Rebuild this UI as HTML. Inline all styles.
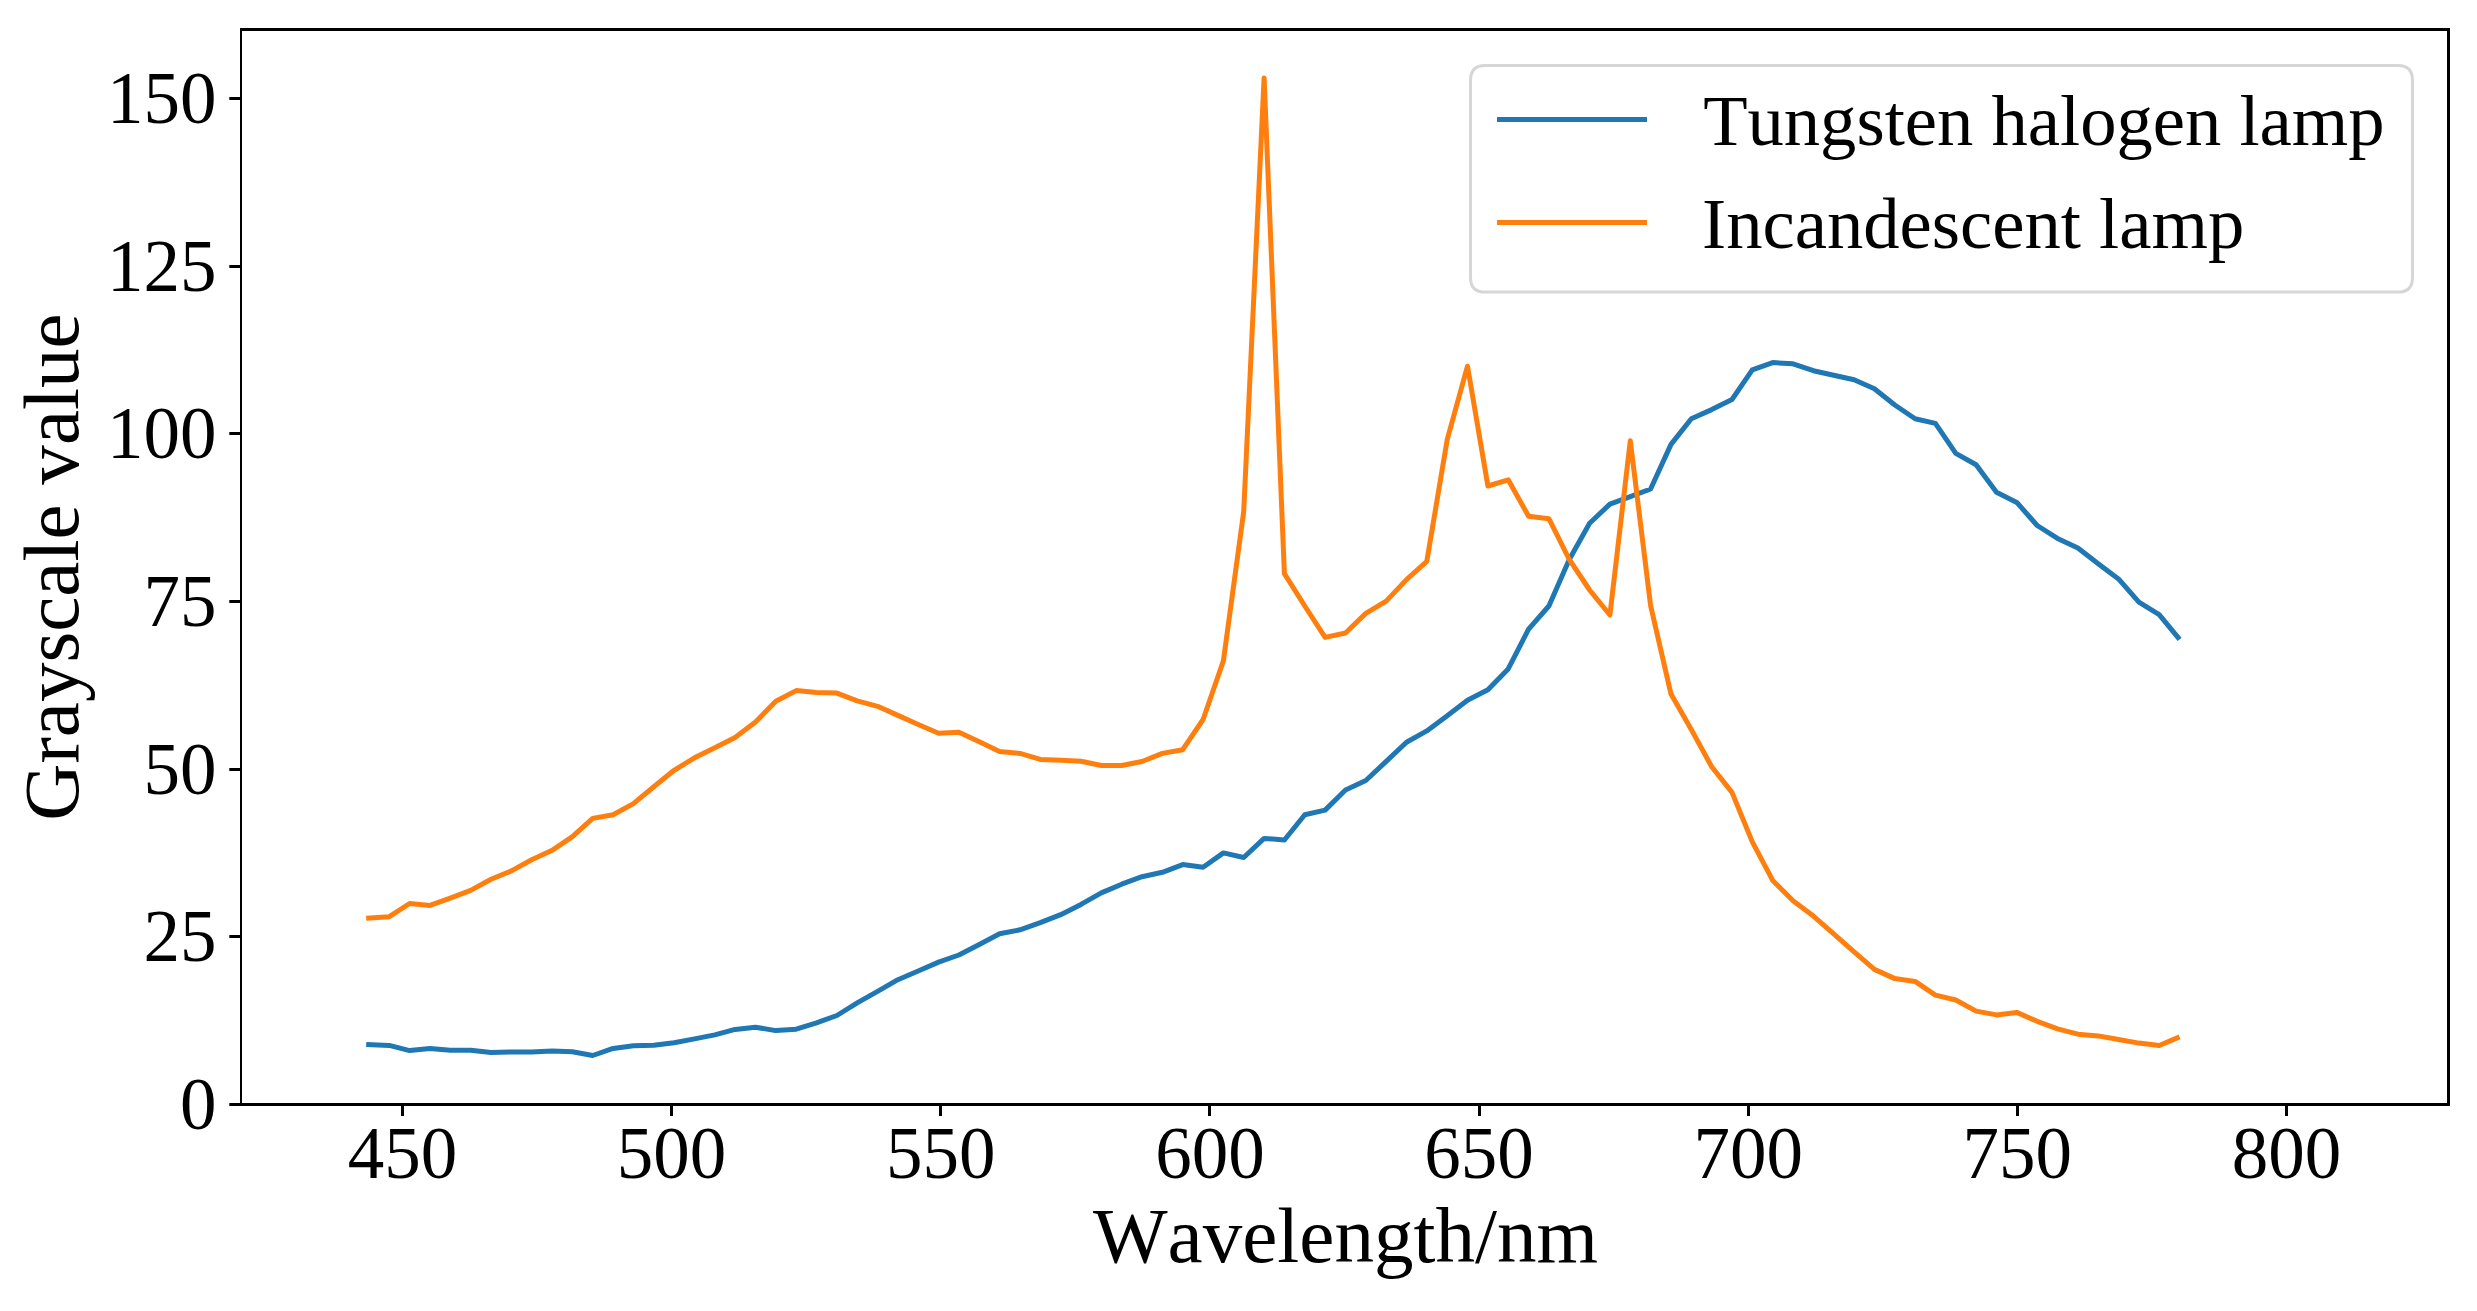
<!DOCTYPE html>
<html><head><meta charset="utf-8"><title>Spectrum</title>
<style>
html,body{margin:0;padding:0;background:#fff;}
svg{display:block;}
text{font-family:"Liberation Serif","Times New Roman",serif;fill:#000;font-kerning:none;}
.t{font-size:73px;}
.l{font-size:79.1px;}
.g{font-size:72.6px;}
</style></head><body>
<svg width="2477" height="1311" viewBox="0 0 2477 1311">
<rect x="0" y="0" width="2477" height="1311" fill="#ffffff"/>
<polyline points="366.2,1044.4 389.3,1045.4 409.6,1050.6 430.0,1048.6 450.3,1050.2 470.7,1050.2 491.0,1052.6 511.4,1052.0 531.7,1052.0 552.1,1051.0 572.4,1051.8 592.7,1055.5 613.1,1048.4 633.4,1045.8 653.8,1045.2 674.1,1042.7 694.5,1038.9 714.8,1034.9 735.1,1029.4 755.5,1027.2 775.8,1030.6 796.2,1029.2 816.5,1022.8 836.9,1015.5 857.2,1002.9 877.6,991.4 897.9,979.7 918.2,971.0 938.6,962.1 958.9,955.0 979.3,944.5 999.6,933.8 1020.0,929.8 1040.3,922.7 1060.7,914.7 1081.0,904.4 1101.3,892.9 1121.7,884.2 1142.0,876.7 1162.4,872.3 1182.7,864.6 1203.1,867.2 1223.4,852.9 1243.7,857.5 1264.1,838.4 1284.4,840.0 1304.8,814.7 1325.1,810.1 1345.5,790.0 1365.8,780.5 1386.2,761.4 1406.5,742.2 1426.8,730.9 1447.2,715.7 1467.5,700.2 1487.9,689.7 1508.2,668.9 1528.6,629.1 1548.9,606.0 1569.3,559.5 1589.6,523.3 1609.9,504.1 1630.3,496.6 1650.6,489.0 1671.0,444.4 1691.3,418.7 1711.7,409.6 1732.0,399.5 1752.3,369.9 1772.7,362.6 1793.0,363.8 1813.4,370.7 1833.7,375.3 1854.1,379.8 1874.4,388.8 1894.8,405.0 1915.1,418.7 1935.4,423.4 1955.8,453.4 1976.1,464.7 1996.5,492.2 2016.8,502.4 2037.2,525.5 2057.5,538.4 2077.9,548.0 2098.2,563.8 2118.5,578.9 2138.9,602.2 2159.2,614.6 2179.6,639.3" fill="none" stroke="#1f77b4" stroke-width="5" stroke-linejoin="round" stroke-linecap="butt"/>
<polyline points="366.2,918.3 389.3,916.7 409.6,903.5 430.0,905.4 450.3,898.1 470.7,890.4 491.0,879.3 511.4,870.9 531.7,859.7 552.1,850.3 572.4,836.7 592.7,818.4 613.1,814.7 633.4,803.6 653.8,786.7 674.1,770.3 694.5,757.8 714.8,747.7 735.1,737.6 755.5,722.1 775.8,701.3 796.2,690.6 816.5,692.6 836.9,693.1 857.2,700.9 877.6,706.3 897.9,715.4 918.2,724.5 938.6,733.2 958.9,732.2 979.3,741.7 999.6,751.4 1020.0,753.4 1040.3,759.4 1060.7,760.2 1081.0,761.3 1101.3,765.5 1121.7,765.5 1142.0,761.5 1162.4,753.4 1182.7,749.7 1203.1,719.5 1223.4,660.9 1243.7,511.6 1264.1,77.9 1284.4,573.6 1304.8,606.0 1325.1,637.4 1345.5,633.0 1365.8,613.4 1386.2,601.1 1406.5,579.6 1426.8,561.4 1447.2,439.7 1467.5,366.2 1487.9,486.0 1508.2,479.8 1528.6,516.2 1548.9,518.7 1569.3,559.5 1589.6,590.0 1609.9,615.0 1630.3,440.8 1650.6,605.5 1671.0,694.1 1691.3,729.5 1711.7,766.8 1732.0,792.4 1752.3,841.9 1772.7,880.4 1793.0,900.7 1813.4,916.1 1833.7,933.8 1854.1,951.9 1874.4,969.4 1894.8,978.6 1915.1,981.4 1935.4,995.1 1955.8,1000.0 1976.1,1011.1 1996.5,1014.9 2016.8,1012.4 2037.2,1021.3 2057.5,1028.8 2077.9,1034.2 2098.2,1035.9 2118.5,1039.5 2138.9,1043.1 2159.2,1045.5 2179.6,1036.9" fill="none" stroke="#ff7f0e" stroke-width="5" stroke-linejoin="round" stroke-linecap="butt"/>
<rect x="240" y="28" width="2" height="1078" fill="#000"/>
<rect x="2447" y="28" width="3" height="1078" fill="#000"/>
<rect x="240" y="28" width="2210" height="3" fill="#000"/>
<rect x="240" y="1103" width="2210" height="3" fill="#000"/>
<rect x="401" y="1104" width="3" height="12" fill="#000"/>
<text class="t" x="402.5" y="1177.8" text-anchor="middle">450</text>
<rect x="670" y="1104" width="3" height="12" fill="#000"/>
<text class="t" x="671.6" y="1177.8" text-anchor="middle">500</text>
<rect x="939" y="1104" width="3" height="12" fill="#000"/>
<text class="t" x="940.8" y="1177.8" text-anchor="middle">550</text>
<rect x="1208" y="1104" width="3" height="12" fill="#000"/>
<text class="t" x="1209.9" y="1177.8" text-anchor="middle">600</text>
<rect x="1478" y="1104" width="3" height="12" fill="#000"/>
<text class="t" x="1479.0" y="1177.8" text-anchor="middle">650</text>
<rect x="1747" y="1104" width="3" height="12" fill="#000"/>
<text class="t" x="1748.2" y="1177.8" text-anchor="middle">700</text>
<rect x="2016" y="1104" width="3" height="12" fill="#000"/>
<text class="t" x="2017.3" y="1177.8" text-anchor="middle">750</text>
<rect x="2285" y="1104" width="3" height="12" fill="#000"/>
<text class="t" x="2286.4" y="1177.8" text-anchor="middle">800</text>
<rect x="229.3" y="1103" width="11.7" height="3" fill="#000"/>
<text class="t" x="216.5" y="1128.9" text-anchor="end">0</text>
<rect x="229.3" y="935" width="11.7" height="3" fill="#000"/>
<text class="t" x="216.5" y="961.2" text-anchor="end">25</text>
<rect x="229.3" y="768" width="11.7" height="3" fill="#000"/>
<text class="t" x="216.5" y="793.6" text-anchor="end">50</text>
<rect x="229.3" y="600" width="11.7" height="3" fill="#000"/>
<text class="t" x="216.5" y="625.9" text-anchor="end">75</text>
<rect x="229.3" y="432" width="11.7" height="3" fill="#000"/>
<text class="t" x="216.5" y="458.2" text-anchor="end">100</text>
<rect x="229.3" y="265" width="11.7" height="3" fill="#000"/>
<text class="t" x="216.5" y="290.6" text-anchor="end">125</text>
<rect x="229.3" y="97" width="11.7" height="3" fill="#000"/>
<text class="t" x="216.5" y="122.9" text-anchor="end">150</text>
<text class="l" x="1345.5" y="1261.5" text-anchor="middle">Wavelength/nm</text>
<text class="l" transform="translate(77.9,567) rotate(-90)" text-anchor="middle">Grayscale value</text>
<path d="M1485.2,65.4 L2397.8,65.4 Q2412.5,65.4 2412.5,80.10000000000001 L2412.5,277.40000000000003 Q2412.5,292.1 2397.8,292.1 L1485.2,292.1 Q1470.5,292.1 1470.5,277.40000000000003 L1470.5,80.10000000000001 Q1470.5,65.4 1485.2,65.4 Z" fill="#fff" fill-opacity="0.8" stroke="#cccccc" stroke-opacity="0.8" stroke-width="3"/>
<line x1="1497" y1="119.5" x2="1647" y2="119.5" stroke="#1f77b4" stroke-width="5"/>
<line x1="1497" y1="222.5" x2="1647" y2="222.5" stroke="#ff7f0e" stroke-width="5"/>
<text class="g" x="1703.2" y="145.1">Tungsten halogen lamp</text>
<text class="g" x="1702" y="247.6">Incandescent lamp</text>
</svg></body></html>
